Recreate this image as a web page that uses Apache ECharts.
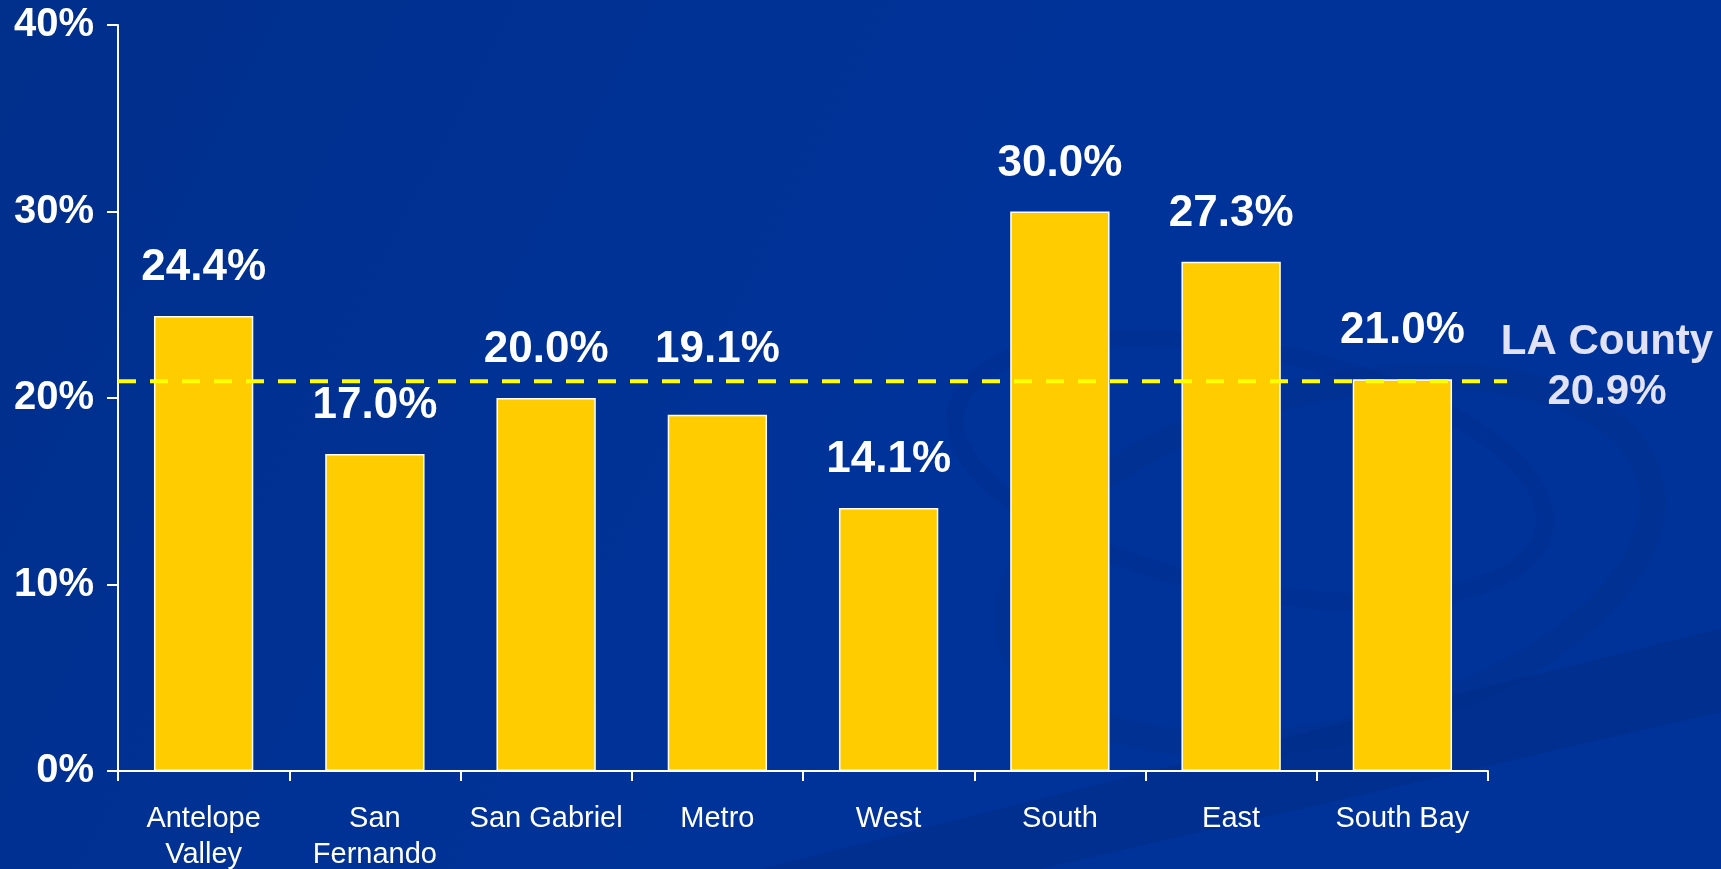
<!DOCTYPE html>
<html lang="en">
<head>
    <meta charset="UTF-8">
    <title>LA County regions</title>
    <style>
        html, body { margin: 0; padding: 0; background: #003399; }
        #box { width: 1721px; height: 869px; }
    </style>
</head>
<body>
    <div id="box"></div>
    <script src="https://cdn.jsdelivr.net/npm/echarts@6/dist/echarts.min.js"></script>
    <script>
        // data
        var regions = ['Antelope\nValley', 'San\nFernando', 'San Gabriel', 'Metro', 'West', 'South', 'East', 'South Bay'];
        var rates = [24.4, 17.0, 20.0, 19.1, 14.1, 30.0, 27.3, 21.0];
        var countyRate = 20.9;
        var countyName = 'LA County';
        var yTicks = [0, 10, 20, 30, 40];

        var myChart = echarts.init(document.getElementById('box'));
        var font = "'Liberation Sans', Arial, sans-serif";

        // Metro's label sits higher on the slide so it clears the dashed line
        var barData = rates.map(function (v, i) {
            if (regions[i] === 'Metro') {
                return { value: v, label: { distance: 43 } };
            }
            return v;
        });

        var option = {
            animation: false,
            backgroundColor: {
                type: 'linear', x: 0, y: 0, x2: 1, y2: 1,
                colorStops: [
                    { offset: 0, color: '#002f8c' },
                    { offset: 0.5, color: '#003399' },
                    { offset: 1, color: '#00339a' }
                ]
            },
            graphic: [
                // background swooshes
                {
                    type: 'polygon', z: -10, silent: true,
                    shape: { points: [[760, 869], [1721, 628], [1721, 712], [1040, 869]] },
                    style: { fill: '#002a80', opacity: 0.4 }
                },
                {
                    type: 'ellipse', z: -10, silent: true, rotation: 0.25,
                    x: 1330, y: 560,
                    shape: { cx: 0, cy: 0, rx: 330, ry: 170 },
                    style: { fill: 'none', stroke: '#002a82', lineWidth: 26, opacity: 0.25 }
                },
                {
                    type: 'ellipse', z: -10, silent: true, rotation: -0.2,
                    x: 1250, y: 470,
                    shape: { cx: 0, cy: 0, rx: 300, ry: 120 },
                    style: { fill: 'none', stroke: '#002a82', lineWidth: 18, opacity: 0.2 }
                }
            ],
            grid: [
                { left: 118, right: 233, top: 25, bottom: 98, outerBoundsMode: 'none' },
                { left: 118, right: 214, top: 25, bottom: 98, outerBoundsMode: 'none' }
            ],
            xAxis: [
                {
                    type: 'category',
                    gridIndex: 0,
                    data: regions,
                    axisLine: { lineStyle: { color: '#ffffff', width: 2 } },
                    axisTick: { show: true, length: 10, lineStyle: { color: '#ffffff', width: 2 } },
                    axisLabel: {
                        color: '#ffffff',
                        fontFamily: font,
                        fontSize: 29,
                        lineHeight: 36,
                        margin: 30,
                        interval: 0
                    }
                },
                { type: 'value', gridIndex: 1, min: 0, max: 1, show: false }
            ],
            yAxis: [
                {
                    type: 'value',
                    gridIndex: 0,
                    min: yTicks[0],
                    max: yTicks[yTicks.length - 1],
                    interval: 10,
                    axisLine: { show: true, lineStyle: { color: '#ffffff', width: 2 } },
                    axisTick: { show: true, length: 11, lineStyle: { color: '#ffffff', width: 2 } },
                    splitLine: { show: false },
                    axisLabel: {
                        color: '#ffffff',
                        fontFamily: font,
                        fontWeight: 'bold',
                        fontSize: 40,
                        margin: 24,
                        formatter: '{value}%'
                    }
                },
                { type: 'value', gridIndex: 1, min: 0, max: 40, show: false }
            ],
            series: [
                {
                    name: 'Rate',
                    type: 'bar',
                    xAxisIndex: 0,
                    yAxisIndex: 0,
                    barWidth: '58%',
                    data: barData,
                    itemStyle: { color: '#ffcc00', borderColor: '#ffffff', borderWidth: 1.5 },
                    label: {
                        show: true,
                        position: 'top',
                        distance: 26,
                        color: '#ffffff',
                        fontFamily: font,
                        fontWeight: 'bold',
                        fontSize: 44,
                        formatter: function (p) {
                            return p.value.toFixed(1) + '%';
                        }
                    }
                },
                {
                    name: countyName,
                    type: 'line',
                    xAxisIndex: 1,
                    yAxisIndex: 1,
                    symbol: 'none',
                    data: [[0, countyRate], [1, countyRate]],
                    lineStyle: { color: '#ffff00', width: 4, type: [18, 14] },
                    z: 5
                }
            ]
        };
        myChart.setOption(option);

        // LA County label to the right of the dashed line end
        var end = myChart.convertToPixel({ gridIndex: 1 }, [1, countyRate]);
        myChart.setOption({
            graphic: option.graphic.concat([{
                type: 'text', silent: true, z: 10,
                x: end[0] + 100, y: end[1] - 14,
                style: {
                    text: countyName + '\n' + countyRate.toFixed(1) + '%',
                    fill: '#e2e2f6',
                    font: "bold 42px " + font,
                    lineHeight: 50,
                    align: 'center',
                    verticalAlign: 'middle'
                }
            }])
        });
    </script>
</body>
</html>
